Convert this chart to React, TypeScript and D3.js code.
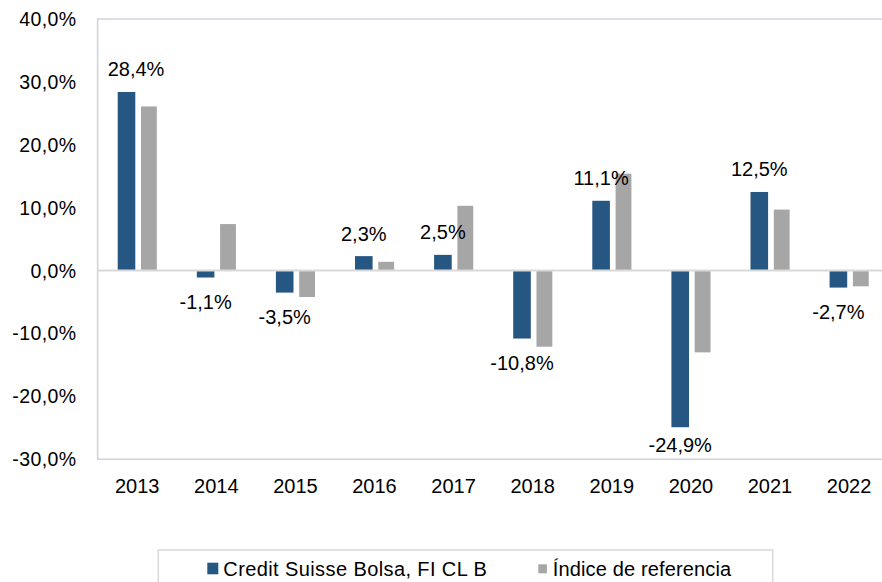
import React, { useEffect, useRef } from "react";
import * as d3 from "d3";

const years = ["2013", "2014", "2015", "2016", "2017", "2018", "2019", "2020", "2021", "2022"];
const fundValues = [28.4, -1.1, -3.5, 2.3, 2.5, -10.8, 11.1, -24.9, 12.5, -2.7];
const indexValues = [26.1, 7.4, -4.2, 1.4, 10.3, -12.1, 15.4, -13.0, 9.7, -2.5];
const yTicks = [-30, -20, -10, 0, 10, 20, 30, 40];
const seriesNames = ["Credit Suisse Bolsa, FI CL B", "Índice de referencia"];

const W = 882;
const H = 582;
const BLUE = "#265682";
const GRAY = "#a6a6a6";
const FONT = "'Liberation Sans', Arial, Helvetica, sans-serif";

const fmt = (v: number) => v.toFixed(1).replace(".", ",") + "%";

export default function App() {
  const ref = useRef<SVGSVGElement | null>(null);

  useEffect(() => {
    const svg = d3.select(ref.current);
    svg.selectAll("*").remove();

    const left = 97.65;
    const right = 888.65;
    const top = 19;
    const bottom = 459.3;

    const x = d3.scaleBand<string>().domain(years).range([left, right]).padding(0);
    const y = d3.scaleLinear().domain([-30, 40]).range([bottom, top]);
    const step = x.bandwidth();

    // frame
    svg.append("path")
      .attr("d", `M${right},${top}H${left}V${bottom}H${right}`)
      .attr("fill", "none")
      .attr("stroke", "#d2d2da")
      .attr("stroke-width", 1.6);

    // y ticks
    svg.append("g").selectAll("text").data(yTicks).join("text")
      .attr("x", 76.5)
      .attr("y", (d) => y(d) + 0.358 * 19.5)
      .attr("text-anchor", "end")
      .attr("font-family", FONT)
      .attr("font-size", 19.5)
      .attr("letter-spacing", 0.4)
      .attr("fill", "#000")
      .text((d) => fmt(d));

    // x labels
    svg.append("g").selectAll("text").data(years).join("text")
      .attr("x", (d) => (x(d) as number) + step / 2)
      .attr("y", 493.3)
      .attr("text-anchor", "middle")
      .attr("font-family", FONT)
      .attr("font-size", 20)
      .attr("fill", "#000")
      .text((d) => d);

    const blueOff = step * 0.2535;
    const blueW = step * 0.2225;
    const grayOff = step * 0.548;
    const grayW = step * 0.2;

    // fund bars
    svg.append("g").selectAll("rect").data(fundValues).join("rect")
      .attr("x", (_, i) => (x(years[i]) as number) + blueOff)
      .attr("width", blueW)
      .attr("y", (d) => y(Math.max(0, d)))
      .attr("height", (d) => Math.abs(y(d) - y(0)))
      .attr("fill", BLUE);

    // index bars
    svg.append("g").selectAll("rect").data(indexValues).join("rect")
      .attr("x", (_, i) => (x(years[i]) as number) + grayOff)
      .attr("width", grayW)
      .attr("y", (d) => y(Math.max(0, d)))
      .attr("height", (d) => Math.abs(y(d) - y(0)))
      .attr("fill", GRAY);

    // zero line
    svg.append("line")
      .attr("x1", left).attr("x2", right)
      .attr("y1", y(0)).attr("y2", y(0))
      .attr("stroke", "#d9d9d9")
      .attr("stroke-width", 2);

    // data labels
    const labels = svg.append("g").selectAll("text").data(fundValues).join("text")
      .attr("y", (d) => (d >= 0 ? y(d) - 15.5 : Math.min(y(d) + 31, bottom - 7.5)))
      .attr("text-anchor", "middle")
      .attr("font-family", FONT)
      .attr("font-size", 20)
      .attr("fill", "#000")
      .text((d) => fmt(d));
    labels.each(function (_, i) {
      const el = this as SVGTextElement;
      const w = el.getComputedTextLength();
      let cx = (x(years[i]) as number) + blueOff + blueW / 2;
      if (cx - w / 2 < left + 10) cx = left + 10 + w / 2;
      d3.select(el).attr("x", cx);
    });

    // legend
    const lg = svg.append("g");
    lg.append("rect")
      .attr("x", 158.3).attr("y", 550)
      .attr("width", 614.4).attr("height", 60)
      .attr("fill", "#fff")
      .attr("stroke", "#d9d9d9")
      .attr("stroke-width", 1.5);
    lg.append("rect").attr("x", 207.3).attr("y", 562.7).attr("width", 11).attr("height", 11.6).attr("fill", BLUE);
    lg.append("text").attr("x", 223.3).attr("y", 575.7)
      .attr("font-family", FONT).attr("font-size", 20).attr("letter-spacing", 0.4).attr("fill", "#000")
      .text(seriesNames[0]);
    lg.append("rect").attr("x", 538.3).attr("y", 564.3).attr("width", 8.6).attr("height", 9).attr("fill", GRAY);
    lg.append("text").attr("x", 552.7).attr("y", 575.7)
      .attr("font-family", FONT).attr("font-size", 20).attr("letter-spacing", 0.15).attr("fill", "#000")
      .text(seriesNames[1]);
  }, []);

  return (
    <svg
      ref={ref}
      width={W}
      height={H}
      style={{ position: "absolute", left: 0, top: 0, background: "#fff" }}
    />
  );
}
